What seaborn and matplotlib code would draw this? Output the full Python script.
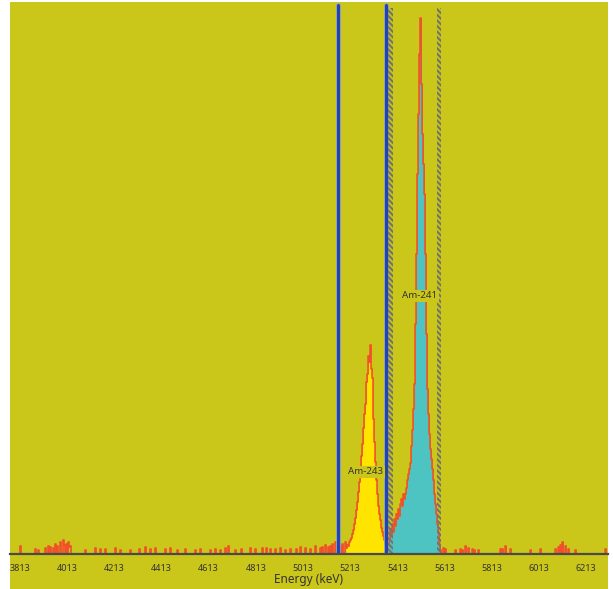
import numpy as np
import pandas as pd
import seaborn as sns
from matplotlib import pyplot as plt
from matplotlib.patches import Rectangle

# background counts (sparse spikes), energy in keV
noise_energy = [3816, 3879, 3892, 3921, 3934, 3943, 3964, 3972, 3985, 3998, 4011, 4019, 4028,
                4091, 4134, 4155, 4176, 4218, 4282, 4346, 4367, 4388, 4430, 4452, 4515, 4558,
                4621, 4642, 4685, 4697, 4727, 4791, 4812, 4842, 4876, 4897, 4918, 4960, 5003,
                5024, 5045, 5066, 5088, 5109, 5121, 5138, 5151, 5172, 5181, 5194,
                5609, 5660, 5681, 5702, 5715, 5732, 5757, 5851, 5872, 5893, 5978, 6020,
                6084, 6097, 6114, 6126, 6139, 6169, 6296,
                3955, 4002, 4024, 4240, 4320, 4480, 4577, 4662, 4752, 4860, 4940, 4985,
                5098, 5130, 5164, 5618, 5690, 5740, 5860, 6105]
noise_counts = [8, 5, 4, 6, 8, 7, 10, 8, 12, 14, 10, 12, 8,
                4, 6, 5, 5, 6, 4, 7, 5, 6, 5, 6, 5, 4,
                4, 5, 6, 8, 4, 6, 5, 6, 5, 5, 6, 5, 7,
                6, 5, 8, 6, 9, 7, 10, 12, 8, 10, 12,
                6, 4, 5, 8, 6, 5, 4, 5, 8, 5, 4, 5,
                5, 7, 12, 8, 5, 4, 5,
                6, 9, 7, 4, 5, 4, 5, 4, 5, 6, 4, 5,
                7, 8, 9, 5, 4, 4, 5, 9]

am243_energy = [5198, 5202, 5206, 5210, 5215, 5219, 5223, 5227, 5232, 5236, 5240, 5244, 5249,
                5253, 5257, 5261, 5266, 5270, 5274, 5278, 5282, 5287, 5291, 5295, 5299, 5304,
                5308, 5312, 5316, 5321, 5325, 5329, 5333, 5338, 5342, 5346, 5350, 5355, 5359,
                5363, 5367, 5372]
am243_counts = [6, 9, 8, 12, 14, 16, 20, 24, 30, 36, 44, 52, 62,
                72, 85, 98, 110, 126, 140, 150, 172, 180, 198, 192, 209, 185,
                176, 135, 112, 92, 74, 60, 48, 40, 34, 26, 22, 18, 14,
                10, 14, 11]

am241_energy = [5376, 5380, 5384, 5389, 5393, 5397, 5401, 5405, 5410, 5414, 5418, 5422, 5427,
                5431, 5435, 5439, 5444, 5448, 5452, 5456, 5461, 5465, 5469, 5473, 5478, 5482,
                5486, 5490, 5494, 5499, 5503, 5507, 5511, 5516, 5520, 5524, 5528, 5533, 5537,
                5541, 5545, 5550, 5554, 5558, 5562, 5567, 5571, 5575, 5579, 5584, 5588, 5592,
                5596]
am241_counts = [8, 15, 25, 18, 30, 22, 35, 28, 40, 35, 45, 38, 50,
                55, 48, 60, 55, 60, 66, 74, 80, 85, 91, 108, 124, 145,
                170, 230, 300, 380, 440, 500, 536, 470, 420, 390, 360, 300, 220,
                165, 140, 120, 105, 95, 85, 74, 60, 50, 40, 30, 22, 10,
                4]

roi_lines = [5160, 5363]      # blue markers
hatch_lines = [5384, 5588]    # grey hatched markers
peak_labels = ["Am-243", "Am-241"]
label_pos = [(5278, 82), (5507, 258)]

tick_major = list(range(3813, 6300, 200))
tick_minor = list(range(3913, 6300, 200))

bg = "#CBC71A"
red = "#F0502A"

sns.set_style("white")
plt.rcParams['font.family'] = ['Noto Sans', 'DejaVu Sans']
plt.rcParams['hatch.linewidth'] = 1.6

df243 = pd.DataFrame({"energy": am243_energy, "counts": am243_counts})
df241 = pd.DataFrame({"energy": am241_energy, "counts": am241_counts})
dfnoise = pd.DataFrame({"energy": noise_energy, "counts": noise_counts})
spec = pd.concat([dfnoise, df243, df241], ignore_index=True)
edges = np.arange(3771, 6310, 4.24).tolist()

fig = plt.figure(figsize=(6.13, 5.89), dpi=100)
fig.patch.set_facecolor("white")
fig.patches.append(Rectangle((10 / 613, 0), 598 / 613, 587 / 589, transform=fig.transFigure,
                             facecolor=bg, edgecolor="none", zorder=-1))
ax = fig.add_axes([10 / 613, 35 / 589, 598 / 613, 552 / 589])
ax.set_facecolor(bg)

# filled regions of interest
sns.histplot(data=df243, x="energy", weights="counts", bins=edges, element="step", fill=True,
             color="#FFE400", alpha=1, linewidth=0, ax=ax, zorder=2)
sns.histplot(data=df241, x="energy", weights="counts", bins=edges, element="step", fill=True,
             color="#4EC4C2", alpha=1, linewidth=0, ax=ax, zorder=2)
# measured spectrum outline
sns.histplot(data=spec, x="energy", weights="counts", bins=edges, element="step", fill=False,
             color=red, linewidth=1.2, ax=ax, zorder=3)

for xv in roi_lines:
    ax.axvline(xv, ymax=0.995, color="#8AA0D8", linewidth=3.4, zorder=4)
    ax.axvline(xv, ymax=0.995, color="#2444AA", linewidth=2.2, zorder=4)
for xv in hatch_lines:
    ax.axvspan(xv - 9, xv + 9, ymin=0, ymax=0.99, facecolor="none", edgecolor="#75756A",
               hatch="\\\\\\\\\\\\", linewidth=0, zorder=4)

for name, (xe, ye) in zip(peak_labels, label_pos):
    ax.text(xe, ye, name, ha="center", va="center", fontsize=7, color="#333333", zorder=6,
            bbox=dict(facecolor=bg, edgecolor="none", pad=1.2))

ax.set_xlim(3771, 6306)
ax.set_ylim(0, 552)
ax.set_xticks(tick_major)
ax.set_xticks(tick_minor, minor=True)
ax.set_xticklabels([str(t) for t in tick_major], fontsize=6.5, color="#333333")
ax.tick_params(axis="x", which="both", direction="out", length=4, width=1, color="#555555", pad=3)
ax.set_yticks([])
ax.set_ylabel("")
ax.set_xlabel("Energy (keV)", fontsize=8.5, color="#333333", labelpad=0)
for s in ["top", "left", "right"]:
    ax.spines[s].set_visible(False)
ax.spines["bottom"].set_color("#4A4A4A")
ax.spines["bottom"].set_linewidth(1.6)
ax.spines["bottom"].set_zorder(5)

fig.savefig("out.png", dpi=100, facecolor=fig.get_facecolor())
